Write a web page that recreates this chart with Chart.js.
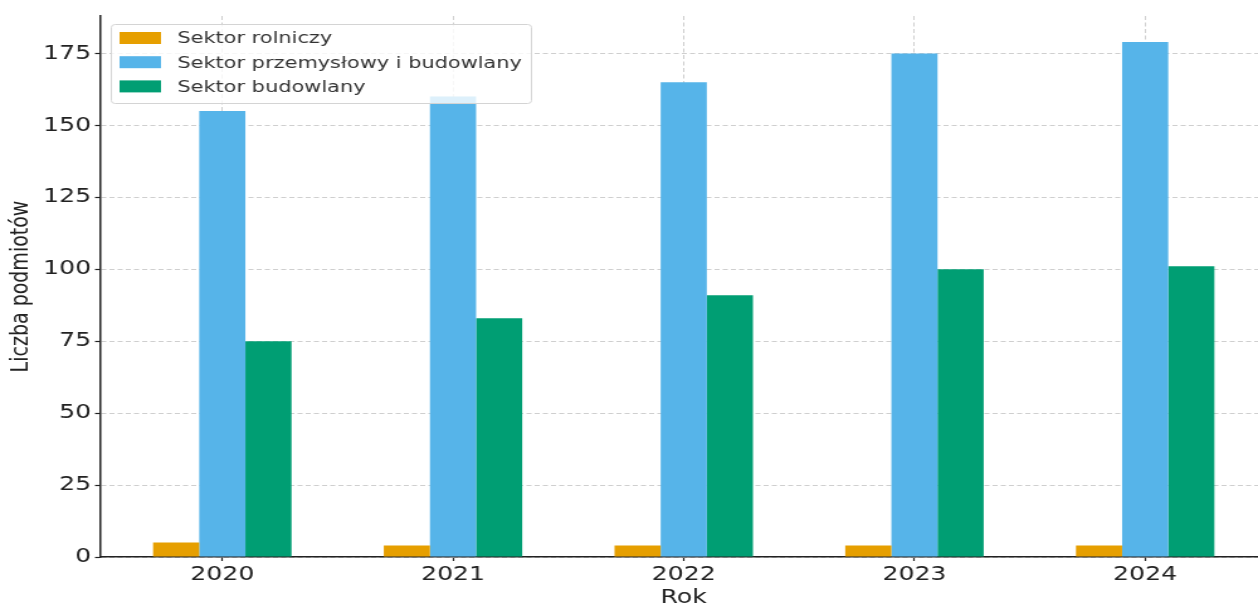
<!DOCTYPE html>
<html>
<head>
<meta charset="utf-8">
<script src="https://cdn.jsdelivr.net/npm/chart.js@4"></script>
<style>
  html, body { margin: 0; padding: 0; background: #fff; overflow: hidden; }
  #wrap { width: 1010px; height: 605px; transform: scaleX(1.258); transform-origin: 0 0; }
</style>
</head>
<body>
<div id="wrap"><canvas id="chart" width="1010" height="605"></canvas></div>
<script>
const years = ['2020', '2021', '2022', '2023', '2024'];
const rolniczy = [5, 4, 4, 4, 4];
const przemyslowy = [155, 160, 165, 175, 179];
const budowlany = [75, 83, 91, 100, 101];
const yTicks = [0, 25, 50, 75, 100, 125, 150, 175];

const FONT = '"DejaVu Sans", sans-serif';
const toPoints = (arr) => arr.map((v, i) => ({ x: i, y: v }));

// legend drawn inside the plot, top left, like the original
const legendBox = {
    id: 'legendBox',
    afterDraw(chart) {
        const ctx = chart.ctx;
        const x = 88, y = 24, w = 334, h = 79;
        ctx.save();
        ctx.fillStyle = 'rgba(255,255,255,0.8)';
        ctx.strokeStyle = '#d4d4d4';
        ctx.lineWidth = 1;
        ctx.beginPath();
        ctx.roundRect(x + 0.5, y + 0.5, w, h, 3);
        ctx.fill();
        ctx.stroke();
        ctx.font = '16.6px ' + FONT;
        ctx.textBaseline = 'middle';
        chart.data.datasets.forEach((ds, i) => {
            const cy = y + 14 + i * 24.2;
            ctx.fillStyle = ds.backgroundColor;
            ctx.fillRect(x + 7, cy - 6, 33, 12);
            ctx.fillStyle = '#333';
            ctx.fillText(ds.label, x + 53, cy + 1);
        });
        ctx.restore();
    }
};

new Chart(document.getElementById('chart'), {
    type: 'bar',
    data: {
        datasets: [{
            label: 'Sektor rolniczy',
            backgroundColor: '#E69F00',
            data: toPoints(rolniczy)
        }, {
            label: 'Sektor przemysłowy i budowlany',
            backgroundColor: '#56B4E9',
            data: toPoints(przemyslowy)
        }, {
            label: 'Sektor budowlany',
            backgroundColor: '#009E73',
            data: toPoints(budowlany)
        }]
    },
    options: {
        responsive: false,
        animation: false,
        categoryPercentage: 0.6,
        barPercentage: 1,
        layout: { padding: { left: 0, top: 16, right: 2.5, bottom: 0 } },
        plugins: {
            legend: { display: false },
            tooltip: { enabled: false }
        },
        scales: {
            x: {
                type: 'linear',
                min: -0.53,
                max: 4.53,
                offset: false,
                z: 1,
                afterBuildTicks: (scale) => {
                    scale.ticks = years.map((y, i) => ({ value: i }));
                },
                afterFit: (scale) => { scale.height = 48; },
                ticks: {
                    stepSize: 1,
                    autoSkip: false,
                    maxRotation: 0,
                    padding: 2,
                    color: '#222',
                    font: { family: FONT, size: 20 },
                    callback: (v) => years[v]
                },
                grid: {
                    offset: false,
                    color: '#cfcfcf',
                    lineWidth: 1,
                    tickColor: '#222',
                    tickLength: 4,
                    tickWidth: 1.2
                },
                border: { color: '#222', width: 1.5, dash: [4, 2.5] },
                title: {
                    display: true,
                    text: 'Rok',
                    color: '#222',
                    font: { family: FONT, size: 20, lineHeight: 1 },
                    padding: { top: 0, bottom: -3 }
                }
            },
            y: {
                min: 0,
                max: 188,
                z: 1,
                afterBuildTicks: (scale) => {
                    scale.ticks = yTicks.map(v => ({ value: v }));
                },
                afterFit: (scale) => { scale.width = 79.5; },
                ticks: {
                    stepSize: 25,
                    padding: 3,
                    color: '#222',
                    font: { family: FONT, size: 20 }
                },
                grid: {
                    color: '#cfcfcf',
                    lineWidth: 1,
                    tickColor: '#222',
                    tickLength: 4,
                    tickWidth: 1.2
                },
                border: { color: '#222', width: 1.5, dash: [4, 2.5] },
                title: {
                    display: true,
                    text: 'Liczba podmiotów',
                    color: '#222',
                    font: { family: FONT, size: 19 },
                    padding: { top: 6, bottom: 0 }
                }
            }
        }
    },
    plugins: [legendBox]
});
</script>
</body>
</html>
